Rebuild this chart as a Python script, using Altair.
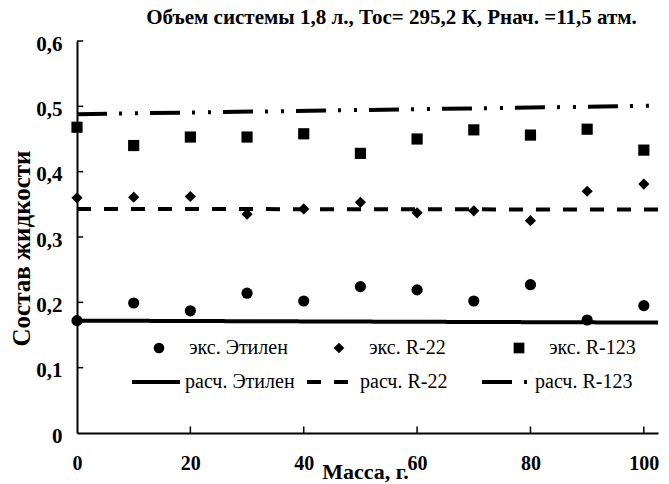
import altair as alt
import pandas as pd

FONT = "Liberation Serif"

title_text = "Объем системы 1,8 л., Тос= 295,2 К, Рнач. =11,5 атм."
x_title = "Масса, г."
y_title = "Состав жидкости"

mass = [0, 10, 20, 30, 40, 50, 60, 70, 80, 90, 100]
eth_exp = [0.172, 0.199, 0.187, 0.214, 0.202, 0.224, 0.219, 0.202, 0.227, 0.173, 0.195]
r22_exp = [0.360, 0.361, 0.362, 0.335, 0.343, 0.353, 0.337, 0.340, 0.325, 0.370, 0.381]
r123_exp = [0.468, 0.440, 0.453, 0.453, 0.458, 0.428, 0.450, 0.464, 0.456, 0.465, 0.433]

calc_mass = [0, 102.5]
eth_calc = [0.172, 0.169]
r22_calc = [0.343, 0.342]
r123_calc = [0.488, 0.501]

exp_names = ["экс. Этилен", "экс. R-22", "экс. R-123"]
calc_names = ["расч. Этилен", "расч. R-22", "расч. R-123"]

x_tick_values = [0, 20, 40, 60, 80, 100]
x_inner_ticks = [20, 40, 60, 80, 100]
y_tick_values = [0, 0.1, 0.2, 0.3, 0.4, 0.5, 0.6]
y_inner_ticks = [0.1, 0.2, 0.3, 0.4, 0.5, 0.6]

pts = pd.DataFrame(
    [{"m": m, "v": v, "s": n} for n, vals in zip(exp_names, [eth_exp, r22_exp, r123_exp]) for m, v in zip(mass, vals)]
)
lines = pd.DataFrame(
    [{"m": m, "v": v, "s": n} for n, vals in zip(calc_names, [eth_calc, r22_calc, r123_calc]) for m, v in zip(calc_mass, vals)]
)
xt = pd.DataFrame({"m": x_inner_ticks})
yt = pd.DataFrame({"v": y_inner_ticks})

xs = alt.Scale(domain=[0, 102.5], nice=False, zero=False)
ys = alt.Scale(domain=[0, 0.6], nice=False)

x_axis = alt.Axis(
    values=x_tick_values, ticks=False, grid=False, format="d",
    labelFont=FONT, labelFontSize=20, labelFontWeight="bold", labelColor="black",
    labelPadding=20, labelFlush=False, domainColor="black", domainWidth=2,
    title=x_title, titleFont=FONT, titleFontSize=22, titleFontWeight="bold", titleColor="black",
    titleX=288, titleY=45, titleBaseline="alphabetic", titleAlign="center",
)
y_axis = alt.Axis(
    values=y_tick_values, ticks=False, grid=False,
    labelExpr="datum.value == 0 ? '0' : replace(format(datum.value, '.1f'), '.', ',')",
    labelFont=FONT, labelFontSize=21, labelFontWeight="bold", labelColor="black",
    labelPadding=15, labelOffset=3, labelFlush=False, domainColor="black", domainWidth=2,
    title=y_title, titleFont=FONT, titleFontSize=25, titleFontWeight="bold", titleColor="black",
    titleAngle=-90, titleX=-56, titleY=207, titleAlign="center", titleBaseline="middle",
)

X = alt.X("m:Q", scale=xs, axis=x_axis)
Y = alt.Y("v:Q", scale=ys, axis=y_axis)

points = alt.Chart(pts).mark_point(filled=True, color="black", opacity=1, size=125).encode(
    x=X, y=Y,
    shape=alt.Shape(
        "s:N",
        scale=alt.Scale(domain=exp_names, range=["circle", "diamond", "square"]),
        legend=alt.Legend(
            orient="none", legendX=72, legendY=297, direction="horizontal", columns=3,
            title=None, symbolSize=115, symbolFillColor="black", symbolStrokeColor="black",
            symbolStrokeWidth=0, labelFont=FONT, labelFontSize=20, labelColor="black",
            labelOffset=20, columnPadding=41, gridAlign="all", padding=0,
        ),
    ),
)

calc = alt.Chart(lines).mark_line(color="black", strokeWidth=4, strokeCap="butt").encode(
    x=X, y=Y,
    strokeDash=alt.StrokeDash(
        "s:N",
        scale=alt.Scale(domain=calc_names, range=[[1, 0], [14, 13], [30, 12, 3, 13, 3, 12]]),
        legend=alt.Legend(
            orient="none", legendX=53, legendY=315, direction="horizontal", columns=3,
            title=None, symbolType="stroke", symbolSize=2304, symbolStrokeWidth=4,
            symbolStrokeColor="black", labelFont=FONT, labelFontSize=20, labelColor="black",
            labelOffset=3, columnPadding=4, gridAlign="all", padding=0,
        ),
    ),
)

xticks = alt.Chart(xt).mark_rule(color="black", strokeWidth=1.5).encode(
    x=X, y=alt.datum(0), y2=alt.datum(0.01)
)
yticks = alt.Chart(yt).mark_rule(color="black", strokeWidth=1.5).encode(
    y=Y, x=alt.datum(0), x2=alt.datum(1.1)
)

chart = alt.layer(calc, points, xticks, yticks).properties(
    width=581, height=392,
    title=alt.TitleParams(
        title_text, font=FONT, fontSize=21, fontWeight="bold", color="black",
        anchor="middle", dx=24, dy=18, offset=6, baseline="alphabetic",
    ),
    autosize=alt.AutoSizeParams(type="none"),
    padding={"left": 69, "top": 33, "right": 3, "bottom": 51},
).configure_view(stroke=None)

chart.save("out.html", embed_options={"renderer": "svg", "actions": False})
